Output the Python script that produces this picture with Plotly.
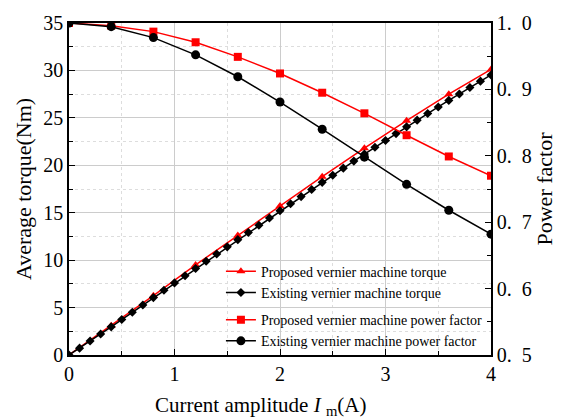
import plotly.graph_objects as go

# ---- data ----
current_fine = [round(0.1 * i, 1) for i in range(41)]
existing_torque = [0, 0.72, 1.47, 2.22, 2.97, 3.74, 4.5, 5.27, 6.05, 6.82, 7.6,
                   8.36, 9.12, 9.88, 10.64, 11.4, 12.16, 12.92, 13.68, 14.44, 15.2,
                   15.95, 16.7, 17.45, 18.2, 18.95, 19.7, 20.44, 21.18, 21.9, 22.62,
                   23.34, 24.05, 24.76, 25.46, 26.15, 26.84, 27.52, 28.2, 28.87, 29.52]

current_coarse = [0, 0.4, 0.8, 1.2, 1.6, 2.0, 2.4, 2.8, 3.2, 3.6, 4.0]
proposed_torque = [0, 3.08, 6.25, 9.5, 12.6, 15.7, 18.8, 21.8, 24.7, 27.5, 30.1]
proposed_pf = [1.0, 0.996, 0.987, 0.971, 0.949, 0.924, 0.895, 0.864, 0.831, 0.799, 0.770]
existing_pf = [1.0, 0.9945, 0.978, 0.952, 0.919, 0.881, 0.840, 0.798, 0.757, 0.718, 0.682]

x_ticks = [0, 1, 2, 3, 4]
y_ticks = [0, 5, 10, 15, 20, 25, 30, 35]
y2_ticks = [0.5, 0.6, 0.7, 0.8, 0.9, 1.0]
y2_ticktext = ["0.\u20025", "0.\u20026", "0.\u20027", "0.\u20028", "0.\u20029", "1.\u20020"]

FONT = "Liberation Serif"
RED = "#ff0000"
BLACK = "#000000"

fig = go.Figure()
fig.add_trace(go.Scatter(
    x=current_coarse, y=proposed_torque, mode="lines+markers",
    name="Proposed vernier machine torque", legendgroup="torque",
    line=dict(color=RED, width=1.5),
    marker=dict(symbol="triangle-up", size=8, color=RED)))
fig.add_trace(go.Scatter(
    x=current_fine, y=existing_torque, mode="lines+markers",
    name="Existing vernier machine torque", legendgroup="torque",
    line=dict(color=BLACK, width=1.5),
    marker=dict(symbol="diamond", size=7, color=BLACK)))
fig.add_trace(go.Scatter(
    x=current_coarse, y=proposed_pf, mode="lines+markers", yaxis="y2",
    name="Proposed vernier machine power factor", legendgroup="pf",
    line=dict(color=RED, width=1.5),
    marker=dict(symbol="square", size=8, color=RED)))
fig.add_trace(go.Scatter(
    x=current_coarse, y=existing_pf, mode="lines+markers", yaxis="y2",
    name="Existing vernier machine power factor", legendgroup="pf",
    line=dict(color=BLACK, width=1.5),
    marker=dict(symbol="circle", size=9, color=BLACK)))

axis_common = dict(
    showline=True, linecolor="black", linewidth=1.5,
    ticks="inside", ticklen=6, tickwidth=1.2, tickcolor="black",
    tickfont=dict(family=FONT, size=20, color="black"),
    zeroline=False,
)

fig.update_layout(
    width=563, height=420,
    margin=dict(l=69, r=60, t=17, b=65),
    paper_bgcolor="white", plot_bgcolor="white",
    font=dict(family=FONT, color="black"),
    xaxis=dict(
        **axis_common, range=[0, 4], tickvals=x_ticks, mirror=True,
        showgrid=True, gridcolor="#cccccc", gridwidth=1,
        minor=dict(dtick=0.5, ticks="inside", ticklen=4, tickcolor="black",
                   showgrid=True, gridcolor="#dddddd", griddash="dot"),
    ),
    yaxis=dict(
        **axis_common, range=[0, 35], tickvals=y_ticks,
        showgrid=True, gridcolor="#cccccc", gridwidth=1,
        minor=dict(dtick=2.5, ticks="inside", ticklen=4, tickcolor="black",
                   showgrid=True, gridcolor="#dddddd", griddash="dot"),
        title=dict(text="Average torque(Nm)", font=dict(family=FONT, size=22),
                   standoff=6),
    ),
    yaxis2=dict(
        **axis_common, range=[0.5, 1.0], tickvals=y2_ticks, ticktext=y2_ticktext,
        overlaying="y", side="right", showgrid=False,
        minor=dict(dtick=0.05, ticks="inside", ticklen=4, tickcolor="black"),
        title=dict(text="Power factor", font=dict(family=FONT, size=22),
                   standoff=4),
    ),
    legend=dict(
        x=0.36, y=-0.005, xanchor="left", yanchor="bottom",
        bgcolor="rgba(0,0,0,0)", borderwidth=0,
        font=dict(family=FONT, size=14, color="black"),
        traceorder="grouped", tracegroupgap=6, itemwidth=30,
    ),
    annotations=[dict(
        text="Current amplitude <i>I</i> <sub>m</sub>(A)",
        xref="paper", yref="paper", x=0.453, y=-0.154,
        xanchor="center", yanchor="middle", showarrow=False,
        font=dict(family=FONT, size=21, color="black"),
    )],
)

fig.write_html("out.html")
